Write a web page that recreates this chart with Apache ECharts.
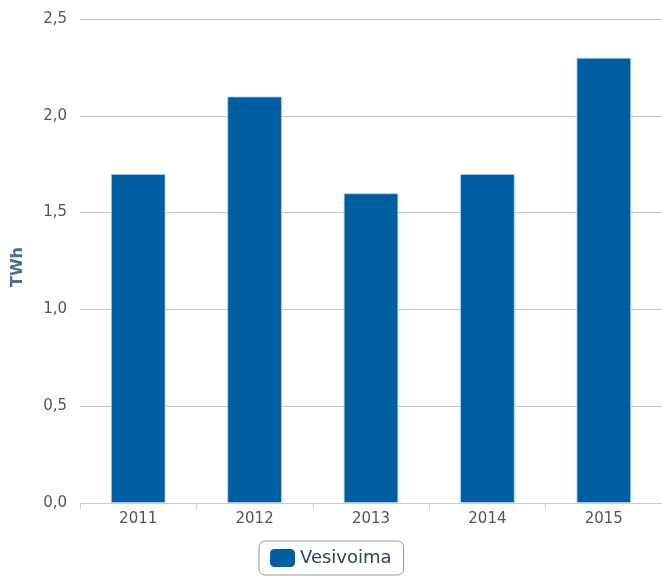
<!DOCTYPE html>
<html>
<head>
<meta charset="utf-8">
<script src="https://cdn.jsdelivr.net/npm/echarts@6/dist/echarts.min.js"></script>
<style>
  html, body { margin: 0; padding: 0; background: #fff; }
  #chart { width: 662px; height: 576px; }
</style>
</head>
<body>
<div id="chart"></div>
<script>
const years = ['2011', '2012', '2013', '2014', '2015'];
const vesivoima = [1.7, 2.1, 1.6, 1.7, 2.3];
const yTicks = [0, 0.5, 1.0, 1.5, 2.0, 2.5];

const chart = echarts.init(document.getElementById('chart'));
const font = '"DejaVu Sans", sans-serif';

chart.setOption({
    animation: false,
    grid: { left: 80, right: 0, top: 19, bottom: 73 },
    xAxis: {
        type: 'category',
        data: years,
        axisLine: { lineStyle: { color: '#c0d0e0', width: 1 } },
        axisTick: { show: true, length: 6, lineStyle: { color: '#c0d0e0' } },
        axisLabel: { color: '#555', fontFamily: font, fontSize: 15, margin: 9 }
    },
    yAxis: {
        type: 'value',
        min: yTicks[0],
        max: yTicks[yTicks.length - 1],
        interval: 0.5,
        name: 'TWh',
        nameLocation: 'middle',
        nameGap: 54,
        nameTextStyle: {
            color: '#4d6f95', fontWeight: 'bold', fontFamily: font, fontSize: 16,
            padding: [0, 12, 0, 0]
        },
        axisLine: { show: false },
        axisTick: { show: false },
        splitLine: { lineStyle: { color: '#c6c6c6' } },
        axisLabel: {
            color: '#555', fontFamily: font, fontSize: 15, margin: 13,
            formatter: v => v.toFixed(1).replace('.', ',')
        }
    },
    legend: {
        top: 541,
        left: 259,
        padding: [8, 12, 8, 11],
        borderColor: '#999',
        borderWidth: 1,
        borderRadius: 6,
        icon: 'roundRect',
        itemWidth: 25,
        itemHeight: 18,
        itemStyle: { borderWidth: 0 },
        textStyle: { color: '#2c4466', fontFamily: font, fontSize: 18 },
        data: ['Vesivoima']
    },
    series: [{
        name: 'Vesivoima',
        type: 'bar',
        data: vesivoima,
        barWidth: '47%',
        itemStyle: { color: '#005da0', borderColor: 'rgba(170,210,240,0.8)', borderWidth: 1 }
    }]
});
</script>
</body>
</html>
